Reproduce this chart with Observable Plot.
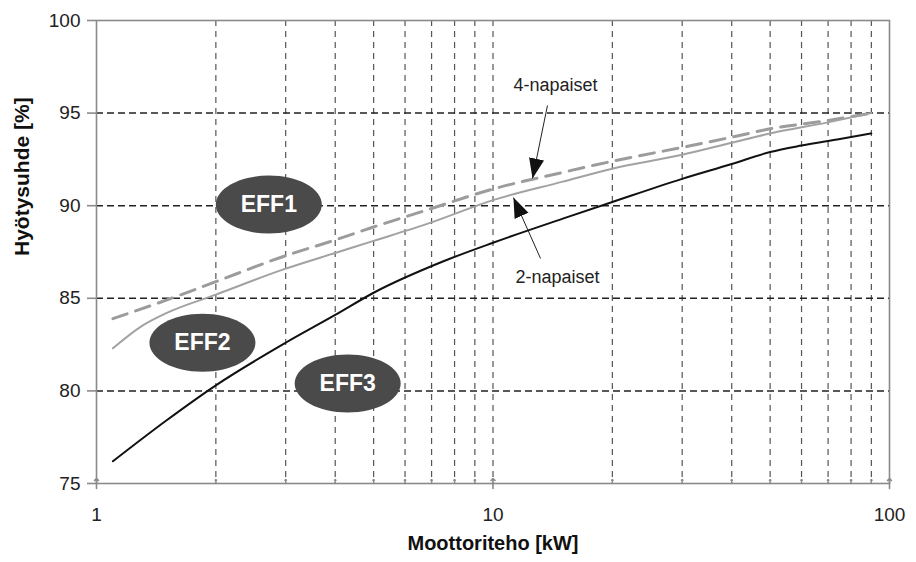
<!DOCTYPE html>
<html>
<head>
<meta charset="utf-8">
<script src="https://cdn.jsdelivr.net/npm/d3@7"></script>
<script src="https://cdn.jsdelivr.net/npm/@observablehq/plot@0.6"></script>
<style>
  html, body { margin: 0; padding: 0; background: #fff; }
  #chart svg { display: block; }
</style>
</head>
<body>
<div id="chart"></div>
<script>
// ---- Data ----
// Black curve: lower limit (EFF2 / EFF3 boundary)
const lowerKw  = [1.1, 1.5, 2, 3, 4, 5, 7.5, 10, 15, 20, 30, 40, 50, 60, 75, 90];
const lowerPct = [76.2, 78.4, 80.3, 82.6, 84.1, 85.3, 87.0, 88.0, 89.3, 90.2, 91.45, 92.25, 92.9, 93.25, 93.6, 93.9];

// Grey solid curve: 2-napaiset (EFF1 / EFF2 boundary)
const twoPoleKw  = [1.1, 1.3, 1.5, 2, 3, 4, 5, 7, 10, 15, 20, 30, 40, 50, 70, 90];
const twoPolePct = [82.3, 83.5, 84.2, 85.2, 86.6, 87.45, 88.1, 89.1, 90.3, 91.3, 92.0, 92.75, 93.4, 93.9, 94.5, 95.0];

// Grey dashed curve: 4-napaiset (EFF1 / EFF2 boundary)
const fourPoleKw  = [1.1, 1.5, 2, 3, 4, 5, 7, 10, 15, 20, 30, 40, 50, 70, 90];
const fourPolePct = [83.9, 84.9, 85.9, 87.3, 88.15, 88.85, 89.85, 90.9, 91.8, 92.4, 93.15, 93.7, 94.15, 94.6, 95.0];

// Class labels
const effLabels = ["EFF1", "EFF2", "EFF3"];
const effKw     = [2.72, 1.85, 4.30];
const effPct    = [90.06, 82.6, 80.4];

// Annotations
const noteLabels = ["4-napaiset", "2-napaiset"];
const noteKw     = [14.38, 14.54];
const notePct    = [96.49, 86.12];
const arrowFromKw  = [13.72, 13.18];
const arrowFromPct = [95.41, 87.15];
const arrowToKw    = [12.58, 11.26];
const arrowToPct   = [91.47, 90.44];

// Ticks and grid
const yTicks = [75, 80, 85, 90, 95, 100];
const xMajorTicks = [1, 10, 100];
const xMinorTicks = [2, 3, 4, 5, 6, 7, 8, 9, 20, 30, 40, 50, 60, 70, 80, 90];
const gridKw = [2, 3, 4, 5, 6, 7, 8, 9, 10, 20, 30, 40, 50, 60, 70, 80, 90];
const gridPct = [80, 85, 90, 95];

const xTitle = "Moottoriteho [kW]";
const yTitle = "Hyötysuhde [%]";

// ---- Tables ----
const toRows = (xs, ys) => xs.map((x, i) => ({x, y: ys[i]}));
const lowerRows = toRows(lowerKw, lowerPct);
const twoPoleRows = toRows(twoPoleKw, twoPolePct);
const fourPoleRows = toRows(fourPoleKw, fourPolePct);
const effRows = effLabels.map((label, i) => ({label, x: effKw[i], y: effPct[i]}));
const noteRows = noteLabels.map((label, i) => ({label, x: noteKw[i], y: notePct[i]}));
const arrowRows = noteLabels.map((label, i) => ({
  x1: arrowFromKw[i], y1: arrowFromPct[i], x2: arrowToKw[i], y2: arrowToPct[i]
}));

// Ellipse symbol for the class badges
const ellipseSymbol = {
  draw(ctx) {
    const rx = 53, ry = 29, k = 0.5523;
    ctx.moveTo(rx, 0);
    ctx.bezierCurveTo(rx, ry * k, rx * k, ry, 0, ry);
    ctx.bezierCurveTo(-rx * k, ry, -rx, ry * k, -rx, 0);
    ctx.bezierCurveTo(-rx, -ry * k, -rx * k, -ry, 0, -ry);
    ctx.bezierCurveTo(rx * k, -ry, rx, -ry * k, rx, 0);
    ctx.closePath();
  }
};

const chart = Plot.plot({
  width: 916,
  height: 562,
  marginLeft: 96,
  marginRight: 27,
  marginTop: 20,
  marginBottom: 79,
  style: {fontFamily: "'Liberation Sans', Arial, sans-serif", fontSize: "19px", color: "#222", background: "#fff"},
  x: {type: "log", domain: [1, 100]},
  y: {domain: [75, 100]},
  marks: [
    // grid
    Plot.ruleX(gridKw, {stroke: "#555", strokeWidth: 1.2, strokeDasharray: "6,5"}),
    Plot.ruleY(gridPct, {stroke: "#222", strokeWidth: 1.5, strokeDasharray: "7,4"}),
    // frame
    Plot.frame({stroke: "#8a8a8a", strokeWidth: 1.6}),
    // axes
    Plot.axisY(yTicks, {tickSize: 9, tickPadding: 7, stroke: "#8a8a8a", strokeWidth: 1.6, fill: "#222", fontSize: 19, label: null}),
    Plot.axisX(xMajorTicks, {tickSize: 0, tickPadding: 24, fill: "#222", fontSize: 19, label: null, tickFormat: d => String(d)}),
    Plot.vector(xMajorTicks, {x: d => d, frameAnchor: "bottom", length: 10, anchor: "middle", stroke: "#8a8a8a", strokeWidth: 1.6}),
    Plot.vector(xMinorTicks, {x: d => d, frameAnchor: "bottom", length: 4, anchor: "start", stroke: "#8a8a8a", strokeWidth: 1.3}),
    // badges
    Plot.dot(effRows, {x: "x", y: "y", symbol: ellipseSymbol, r: 10, fill: "#4a4a4a", stroke: "none"}),
    // curves
    Plot.line(fourPoleRows, {x: "x", y: "y", stroke: "#9c9c9c", strokeWidth: 3, strokeDasharray: "15,9", curve: "monotone-x"}),
    Plot.line(twoPoleRows, {x: "x", y: "y", stroke: "#a2a2a2", strokeWidth: 2, curve: "monotone-x"}),
    Plot.line(lowerRows, {x: "x", y: "y", stroke: "#111", strokeWidth: 2, curve: "monotone-x"}),
    // badge labels
    Plot.text(effRows, {x: "x", y: "y", text: "label", fill: "#fff", fontWeight: "bold", fontSize: 23}),
    // annotations
    Plot.link(arrowRows, {x1: "x1", y1: "y1", x2: "x2", y2: "y2", stroke: "#222", strokeWidth: 1, markerEnd: "arrow"}),
    Plot.text(noteRows, {x: "x", y: "y", text: "label", fill: "#222", fontSize: 18}),
    // axis titles
    Plot.text([xTitle], {frameAnchor: "bottom", dy: 66, fontWeight: "bold", fontSize: 20, fill: "#111"}),
    Plot.text([yTitle], {frameAnchor: "left", dx: -74, dy: 4, rotate: -90, fontWeight: "bold", fontSize: 21, fill: "#111"})
  ]
});

// Filled arrowheads
chart.querySelectorAll("marker").forEach(m => {
  m.setAttribute("viewBox", "-5 -5 10 10");
  m.setAttribute("markerUnits", "userSpaceOnUse");
  m.setAttribute("markerWidth", "20");
  m.setAttribute("markerHeight", "20");
  m.setAttribute("refX", "5");
  m.setAttribute("refY", "0");
  m.setAttribute("fill", "#111");
  m.setAttribute("stroke", "none");
  const p = m.querySelector("path");
  if (p) {
    p.setAttribute("d", "M-5,-3.8L5,0L-5,3.8Z");
    p.setAttribute("fill", "#111");
    p.setAttribute("stroke", "none");
  }
});

document.getElementById("chart").appendChild(chart);
</script>
</body>
</html>
